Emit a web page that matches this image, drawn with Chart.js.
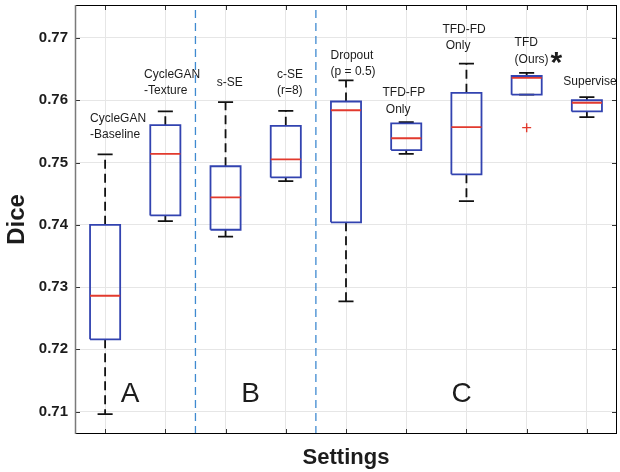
<!DOCTYPE html>
<html>
<head>
<meta charset="utf-8">
<script src="https://cdn.jsdelivr.net/npm/chart.js@4/dist/chart.umd.min.js"></script>
<style>
  html, body { margin: 0; padding: 0; background: #ffffff; }
  #wrap { width: 620px; height: 472px; position: relative; }
</style>
</head>
<body>
<div id="wrap"><canvas id="c"></canvas></div>
<script>
// ---------------- data ----------------
const categories = [
  ['CycleGAN', '-Baseline'],
  ['CycleGAN', '-Texture'],
  ['s-SE'],
  ['c-SE', '(r=8)'],
  ['Dropout', '(p = 0.5)'],
  ['TFD-FP', ' Only'],
  ['TFD-FD', ' Only'],
  ['TFD', '(Ours)'],
  ['Supervised']
];
const whiskerLow  = [0.7096, 0.7406, 0.7381, 0.7470, 0.7277, 0.7514, 0.7438, 0.7609, 0.7573];
const quartile1   = [0.7216, 0.7415, 0.7392, 0.7476, 0.7404, 0.7520, 0.7481, 0.7609, 0.7582];
const medians     = [0.7286, 0.7514, 0.7444, 0.7505, 0.7584, 0.7539, 0.7557, 0.7636, 0.7596];
const quartile3   = [0.7400, 0.7560, 0.7494, 0.7559, 0.7598, 0.7563, 0.7612, 0.7639, 0.7600];
const whiskerHigh = [0.7513, 0.7582, 0.7597, 0.7583, 0.7632, 0.7565, 0.7659, 0.7644, 0.7605];
const outlierCategory = [8];
const outlierValues   = [0.7556];
const yTicks = [0.71, 0.72, 0.73, 0.74, 0.75, 0.76, 0.77];
const groupNames = ['A', 'B', 'C'];
const groupDividers = [2.5, 4.5];
const yTitle = 'Dice';
const xTitle = 'Settings';
const starMark = '*';

// ---------------- layout (positions in data coordinates) ----------------
const Y_MIN = 0.7064, Y_MAX = 0.7753;
const BOX_HALF = 0.25, CAP_HALF = 0.125;
const labelAnchors = [
  [0.751, 0.75711], [1.647, 0.76417], [2.853, 0.76284], [3.853, 0.76417],
  [4.744, 0.76722], [5.606, 0.76117], [6.601, 0.77135], [7.800, 0.76920], [8.608, 0.76294]
];
const groupAnchors = [[1.415, 0.71281], [3.417, 0.71281], [6.921, 0.71281]];
const starAnchor = [8.492, 0.76722];

const FONT = '"Liberation Sans", Arial, Helvetica, sans-serif';
const BLUE = '#3243b0', RED = '#e23a2e', DIVIDER = '#3f8ad0', GRID = '#e6e6e6', TXT = '#1c1c1c';

// ---------------- build line geometry from the arrays ----------------
const gap = (x) => ({ x: x, y: null });
const boxPts = [], medPts = [], whiskPts = [], capPts = [], divPts = [];
categories.forEach((c, k) => {
  const i = k + 1;
  boxPts.push({x: i - BOX_HALF, y: quartile1[k]}, {x: i + BOX_HALF, y: quartile1[k]},
              {x: i + BOX_HALF, y: quartile3[k]}, {x: i - BOX_HALF, y: quartile3[k]},
              {x: i - BOX_HALF, y: quartile1[k]}, gap(i));
  medPts.push({x: i - BOX_HALF, y: medians[k]}, {x: i + BOX_HALF, y: medians[k]}, gap(i));
  whiskPts.push({x: i, y: quartile3[k]}, {x: i, y: whiskerHigh[k]}, gap(i),
                {x: i, y: quartile1[k]}, {x: i, y: whiskerLow[k]}, gap(i));
  capPts.push({x: i - CAP_HALF, y: whiskerHigh[k]}, {x: i + CAP_HALF, y: whiskerHigh[k]}, gap(i),
              {x: i - CAP_HALF, y: whiskerLow[k]}, {x: i + CAP_HALF, y: whiskerLow[k]}, gap(i));
});
groupDividers.forEach(d => { divPts.push({x: d, y: Y_MIN}, {x: d, y: Y_MAX}, gap(d)); });
const outPts = outlierCategory.map((c, k) => ({x: c, y: outlierValues[k]}));

const lineDs = (data, color, width, dash, order) => ({
  data, borderColor: color, borderWidth: width, borderDash: dash, order,
  pointRadius: 0, pointHoverRadius: 0, spanGaps: false, tension: 0, fill: false,
  borderJoinStyle: 'miter', borderCapStyle: 'butt'
});

const noPad = s => { s.paddingTop = 0; s.paddingBottom = 0; s.paddingLeft = 0; s.paddingRight = 0; };

// ---------------- annotation plugin ----------------
const annot = {
  id: 'annot',
  afterDatasetsDraw(chart) {
    const {ctx, chartArea: a, scales: {x, y}} = chart;
    ctx.save();
    ctx.beginPath();
    ctx.rect(a.left, a.top, a.right - a.left, a.bottom - a.top);
    ctx.clip();
    ctx.fillStyle = TXT;
    ctx.textAlign = 'left';
    ctx.textBaseline = 'middle';
    ctx.font = '12px ' + FONT;
    categories.forEach((lines, k) => {
      const px = x.getPixelForValue(labelAnchors[k][0]);
      const py = y.getPixelForValue(labelAnchors[k][1]);
      lines.forEach((t, j) => ctx.fillText(t, px, py + j * 16.5));
    });
    ctx.textAlign = 'center';
    ctx.font = '28px ' + FONT;
    groupNames.forEach((g, k) => {
      ctx.fillText(g, x.getPixelForValue(groupAnchors[k][0]), y.getPixelForValue(groupAnchors[k][1]));
    });
    ctx.font = 'bold 30px ' + FONT;
    ctx.textBaseline = 'alphabetic';
    ctx.fillText(starMark, x.getPixelForValue(starAnchor[0]), y.getPixelForValue(starAnchor[1]) + 17);
    ctx.restore();
  },
  afterDraw(chart) {
    const {ctx, chartArea: a, scales: {x, y}} = chart;
    ctx.save();
    ctx.lineWidth = 1;
    ctx.strokeStyle = '#333333';
    ctx.beginPath();
    yTicks.forEach(v => {
      const py = Math.round(y.getPixelForValue(v)) + 0.5;
      ctx.moveTo(a.left, py); ctx.lineTo(a.left + 5, py);
      ctx.moveTo(a.right, py); ctx.lineTo(a.right - 5, py);
    });
    categories.forEach((c, k) => {
      const px = Math.round(x.getPixelForValue(k + 1)) + 0.5;
      ctx.moveTo(px, a.bottom); ctx.lineTo(px, a.bottom - 5);
      ctx.moveTo(px, a.top); ctx.lineTo(px, a.top + 5);
    });
    ctx.stroke();
    // frame
    ctx.strokeStyle = '#000000';
    ctx.beginPath();
    ctx.moveTo(a.left, a.top + 0.5); ctx.lineTo(a.right, a.top + 0.5);
    ctx.moveTo(a.right - 0.5, a.top); ctx.lineTo(a.right - 0.5, a.bottom);
    ctx.moveTo(a.left, a.bottom - 0.5); ctx.lineTo(a.right, a.bottom - 0.5);
    ctx.stroke();
    ctx.strokeStyle = '#7a7a7a';
    ctx.lineWidth = 1.5;
    ctx.beginPath();
    ctx.moveTo(a.left + 0.5, a.top); ctx.lineTo(a.left + 0.5, a.bottom);
    ctx.stroke();
    ctx.restore();
  }
};

new Chart(document.getElementById('c'), {
  type: 'line',
  data: {
    datasets: [
      lineDs(medPts, RED, 1.8, [], 1),
      lineDs(boxPts, BLUE, 1.8, [], 2),
      lineDs(capPts, '#111111', 1.8, [], 3),
      lineDs(whiskPts, '#111111', 1.8, [9, 5], 4),
      lineDs(divPts, DIVIDER, 1.3, [8, 5], 5),
      { data: outPts, showLine: false, pointStyle: 'cross', pointRadius: 4.5, pointHoverRadius: 4.5,
        pointBorderColor: RED, pointBorderWidth: 1.4, borderColor: RED, order: 0 }
    ]
  },
  options: {
    responsive: true,
    maintainAspectRatio: false,
    animation: false,
    events: [],
    layout: { autoPadding: false, padding: { left: 0, right: 3, top: 5, bottom: 0 } },
    plugins: { legend: { display: false }, tooltip: { enabled: false } },
    scales: {
      x: {
        type: 'linear', min: 0.5, max: 9.5,
        afterBuildTicks: s => { s.ticks = categories.map((c, k) => ({ value: k + 1 })); },
        ticks: { display: false },
        grid: { color: GRID, drawTicks: false, lineWidth: 1 },
        border: { display: false },
        title: { display: true, text: xTitle, color: TXT,
                 font: { family: FONT, size: 22, weight: 'bold' }, padding: { top: 0, bottom: 1 } },
        afterFit: s => { s.height = 38; noPad(s); }
      },
      y: {
        type: 'linear', min: Y_MIN, max: Y_MAX,
        afterBuildTicks: s => { s.ticks = yTicks.map(v => ({ value: v })); },
        ticks: { callback: v => Number(v).toFixed(2), color: TXT, padding: 7,
                 font: { family: FONT, size: 15, weight: 'bold' } },
        grid: { color: GRID, drawTicks: false, lineWidth: 1 },
        border: { display: false },
        title: { display: true, text: yTitle, color: TXT,
                 font: { family: FONT, size: 24, weight: 'bold' }, padding: { top: 3, bottom: 0 } },
        afterFit: s => { s.width = 75; noPad(s); }
      }
    }
  },
  plugins: [annot]
});
</script>
</body>
</html>
